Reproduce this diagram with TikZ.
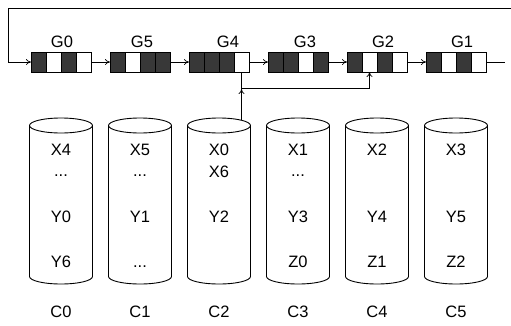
\documentclass[tikz,border=0pt]{standalone}
\usepackage{fontspec}
\setmainfont{Liberation Sans}
\usetikzlibrary{arrows.meta}
\begin{document}
\begin{tikzpicture}[x=1pt,y=-1pt,
  full/.style={draw,line width=0.6pt,fill=black!78,minimum width=15pt,minimum height=20pt,inner sep=0,outer sep=0},
  empty/.style={draw,line width=0.6pt,fill=white,minimum width=15pt,minimum height=20pt,inner sep=0,outer sep=0},
  lbl/.style={font=\fontsize{16.5}{16.5}\selectfont,inner sep=0,anchor=base},
  arr/.style={-{To[length=5pt,width=6pt]},line width=0.7pt},
  ln/.style={line width=0.7pt},
  disk/.style={line width=0.9pt}]
\useasboundingbox (0,0) rectangle (511,325);
% groups of slots
\foreach \g/\L/\a/\b/\c/\d/\dx in {0/31/full/empty/full/empty/1, 5/110/full/empty/full/full/2, 4/189/full/full/full/empty/9, 3/268/full/full/empty/full/7, 2/347/full/empty/full/empty/6, 1/426/full/empty/full/empty/6} {
  \node[\a] (g\g s0) at (\L+7.5,62) {};
  \node[\b] (g\g s1) at (\L+22.5,62) {};
  \node[\c] (g\g s2) at (\L+37.5,62) {};
  \node[\d] (g\g s3) at (\L+52.5,62) {};
  \node[lbl] (lg\g) at (\L+30+\dx,47) {G\g};
}
% chain arrows
\draw[arr] (g0s3.east) -- (g5s0.west);
\draw[arr] (g5s3.east) -- (g4s0.west);
\draw[arr] (g4s3.east) -- (g3s0.west);
\draw[arr] (g3s3.east) -- (g2s0.west);
\draw[arr] (g2s3.east) -- (g1s0.west);
% loop back
\coordinate (tr) at (511,8);
\coordinate (tl) at (8,8);
\draw[arr] (tr) -- (tl) |- (g0s0.west);
\coordinate (re) at (505,62);
\draw[ln] (g1s3.east) -- (re);
% disks
\foreach \i/\x in {0/61,1/140,2/219,3/298,4/377,5/456} {
  \draw[disk] (\x,125.5) ellipse[x radius=31.5,y radius=7.5];
  \draw[disk] (\x-31.5,125.5) -- (\x-31.5,276.5) arc[start angle=180,end angle=0,x radius=31.5,y radius=7.5] -- (\x+31.5,125.5);
  \node[lbl] (cl\i) at (\x,317) {C\i};
}
% G4 -> G2 link
\coordinate (junc) at (241.5,88);
\draw[arr] (g4s3.south) -- (junc) -| (g2s1.south);
\coordinate (c2top) at (241.5,120);
\coordinate (jn) at (241.5,89);
\draw[arr] (c2top) -- (jn);
% disk contents
\node[lbl] (t00) at (61,155) {X4};
\node[lbl] (t01) at (61,176) {...};
\node[lbl] (t02) at (61,222) {Y0};
\node[lbl] (t03) at (61,267) {Y6};
\node[lbl] (t10) at (140,155) {X5};
\node[lbl] (t11) at (140,176) {...};
\node[lbl] (t12) at (140,222) {Y1};
\node[lbl] (t13) at (140,267) {...};
\node[lbl] (t20) at (219,155) {X0};
\node[lbl] (t21) at (219,177) {X6};
\node[lbl] (t22) at (219,222) {Y2};
\node[lbl] (t30) at (298,155) {X1};
\node[lbl] (t31) at (298,176) {...};
\node[lbl] (t32) at (298,222) {Y3};
\node[lbl] (t33) at (298,267) {Z0};
\node[lbl] (t40) at (377,155) {X2};
\node[lbl] (t42) at (377,222) {Y4};
\node[lbl] (t43) at (377,267) {Z1};
\node[lbl] (t50) at (456,155) {X3};
\node[lbl] (t52) at (456,222) {Y5};
\node[lbl] (t53) at (456,267) {Z2};
\end{tikzpicture}
\end{document}
